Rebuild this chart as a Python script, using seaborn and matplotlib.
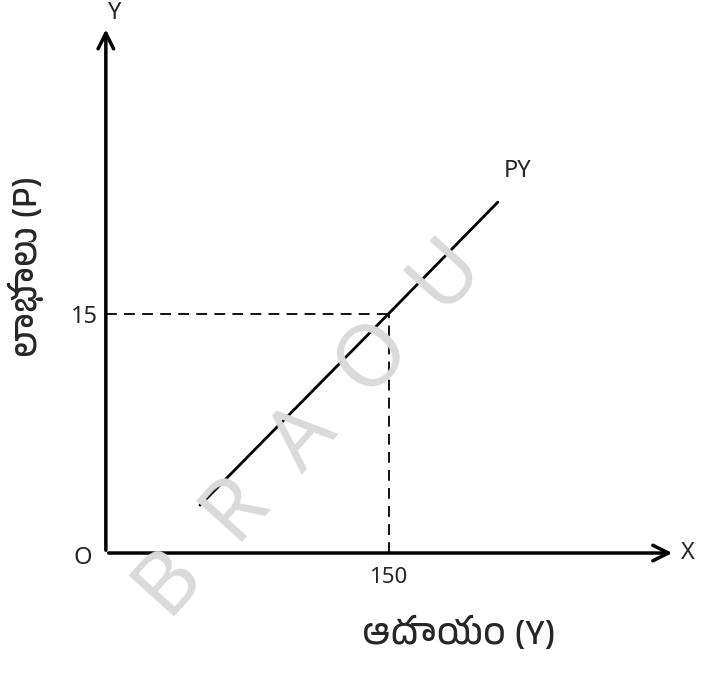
import pandas as pd
import matplotlib
matplotlib.use('Agg')
import matplotlib.pyplot as plt
from matplotlib import font_manager
from matplotlib.ft2font import FT2Font
import seaborn as sns

# data garis PY (pendapatan Y vs laba P)
income = [50, 150, 208]
profit = [3, 15, 22]
point_x = 150
point_y = 15
x_label = 'ఆదాయం (Y)'
y_label = 'లాభాలు (P)'
line_label = 'PY'
watermark = 'B  R  A  O  U'

# cari font yang punya huruf Telugu, utamakan yang namanya Telugu
found = []
for f in font_manager.fontManager.ttflist:
    try:
        if 0x0C06 in FT2Font(f.fname).get_charmap():
            found.append(f.name)
    except Exception:
        pass
found.sort(key=lambda n: (0 if 'Telugu' in n else 1 if 'Lohit' in n else 2))
telugu_fam = found[:1]

sns.set_theme(style="white")
plt.rcParams['font.family'] = ['Noto Sans', 'DejaVu Sans']
tel_font = telugu_fam + ['Noto Sans', 'DejaVu Sans']

df = pd.DataFrame({'Y': income, 'P': profit})

fig = plt.figure(figsize=(7.01, 6.74), dpi=100)
ax = fig.add_axes([0.151, 0.1795, 0.812, 0.781])

# watermark di belakang
fig.text(0.445, 0.36, watermark, rotation=48, fontsize=62, color='#dadada',
         ha='center', va='center', zorder=0)

sns.lineplot(data=df, x='Y', y='P', color='black', linewidth=2, ax=ax)

# garis putus-putus ke sumbu
ax.plot([0, point_x], [point_y, point_y], color='black', linestyle=(0, (6, 4)), linewidth=1.3)
ax.plot([point_x, point_x], [0, point_y], color='black', linestyle=(0, (6, 4)), linewidth=1.3)

ax.set_xlim(0, 302)
ax.set_ylim(0, 33)
for s in ax.spines.values():
    s.set_visible(False)
ax.patch.set_alpha(0)

# sumbu dengan panah
ax.annotate('', xy=(1.0, 0), xytext=(0, 0), xycoords='axes fraction',
            arrowprops=dict(arrowstyle='->', color='black', lw=2.5, mutation_scale=28))
ax.annotate('', xy=(0, 1.0), xytext=(0, 0), xycoords='axes fraction',
            arrowprops=dict(arrowstyle='->', color='black', lw=2.5, mutation_scale=28))

ax.set_xticks([point_x])
ax.set_xticklabels(['150'])
ax.set_yticks([point_y])
ax.set_yticklabels(['15'])
ax.tick_params(axis='x', length=0, labelsize=16, pad=10)
ax.tick_params(axis='y', length=0, labelsize=17, pad=6)
ax.set_xlabel(x_label, fontsize=26, family=tel_font, fontweight='normal')
ax.set_ylabel(y_label, fontsize=26, family=tel_font, fontweight='normal')
ax.xaxis.set_label_coords(0.62, -0.12)
ax.yaxis.set_label_coords(-0.108, 0.545)

ax.text(1.01, 0, 'X', transform=ax.transAxes, fontsize=17, ha='left', va='center')
fig.text(0.163, 0.999, 'Y', fontsize=17, ha='center', va='top')
ax.text(-0.04, -0.01, 'O', transform=ax.transAxes, fontsize=17, ha='center', va='center')
ax.text(income[-1] + 3, profit[-1] + 1.2, line_label, fontsize=17, ha='left', va='bottom')

fig.savefig('out.png', dpi=100)
plt.close(fig)
